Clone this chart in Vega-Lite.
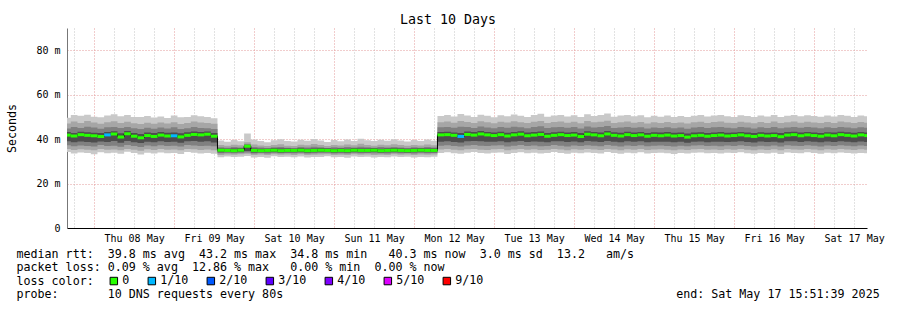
{
  "$schema": "https://vega.github.io/schema/vega-lite/v6.json",
  "width": 800,
  "height": 200,
  "autosize": {"type": "none"},
  "padding": {"left": 67, "top": 28, "right": 30, "bottom": 82},
  "background": "#ffffff",
  "config": {"view": {"stroke": null}, "font": "DejaVu Sans Mono"},
  "title": {"text": "Last 10 Days", "font": "DejaVu Sans Mono", "fontSize": 13.3, "fontWeight": "normal", "color": "#000000", "anchor": "middle", "frame": "group", "dx": -19, "dy": 13, "offset": 4, "baseline": "alphabetic"},
  "data": {"values": [
    {"t":"2025-05-07T14:00:00Z","med":41.6,"l1":33.9,"h1":50.2,"l2":35.3,"h2":47.4,"l3":37.0,"h3":45.1,"l4":38.8,"h4":43.0,"loss":"0"},
    {"t":"2025-05-07T16:00:00Z","med":41.8,"l1":34.2,"h1":49.6,"l2":35.6,"h2":47.0,"l3":37.2,"h3":44.8,"l4":39.0,"h4":43.2,"loss":"0"},
    {"t":"2025-05-07T18:00:00Z","med":41.4,"l1":33.5,"h1":50.8,"l2":35.1,"h2":47.9,"l3":36.8,"h3":45.4,"l4":38.6,"h4":42.8,"loss":"0"},
    {"t":"2025-05-07T20:00:00Z","med":42.0,"l1":34.0,"h1":50.5,"l2":35.4,"h2":47.2,"l3":37.1,"h3":45.0,"l4":38.9,"h4":43.3,"loss":"0"},
    {"t":"2025-05-07T22:00:00Z","med":41.7,"l1":33.7,"h1":51.0,"l2":35.2,"h2":48.1,"l3":36.9,"h3":45.6,"l4":38.7,"h4":43.1,"loss":"0"},
    {"t":"2025-05-08T00:00:00Z","med":41.5,"l1":33.2,"h1":50.1,"l2":35.0,"h2":47.5,"l3":36.7,"h3":45.2,"l4":38.5,"h4":42.9,"loss":"0"},
    {"t":"2025-05-08T02:00:00Z","med":41.2,"l1":34.1,"h1":49.8,"l2":35.5,"h2":46.9,"l3":37.3,"h3":44.7,"l4":38.9,"h4":42.7,"loss":"0"},
    {"t":"2025-05-08T04:00:00Z","med":41.9,"l1":33.6,"h1":50.6,"l2":35.2,"h2":47.6,"l3":36.9,"h3":45.3,"l4":38.7,"h4":43.2,"loss":"1/10"},
    {"t":"2025-05-08T06:00:00Z","med":42.3,"l1":33.9,"h1":51.2,"l2":35.3,"h2":48.0,"l3":37.0,"h3":45.5,"l4":39.1,"h4":43.5,"loss":"0"},
    {"t":"2025-05-08T08:00:00Z","med":41.0,"l1":33.4,"h1":50.3,"l2":35.0,"h2":47.3,"l3":36.6,"h3":45.0,"l4":38.4,"h4":42.6,"loss":"0"},
    {"t":"2025-05-08T10:00:00Z","med":42.4,"l1":34.3,"h1":50.9,"l2":35.6,"h2":47.8,"l3":37.4,"h3":45.4,"l4":39.2,"h4":43.6,"loss":"0"},
    {"t":"2025-05-08T12:00:00Z","med":41.3,"l1":33.8,"h1":50.0,"l2":35.2,"h2":47.1,"l3":36.9,"h3":44.9,"l4":38.6,"h4":42.8,"loss":"0"},
    {"t":"2025-05-08T14:00:00Z","med":40.6,"l1":33.1,"h1":49.9,"l2":34.8,"h2":46.8,"l3":36.5,"h3":44.6,"l4":38.2,"h4":42.3,"loss":"0"},
    {"t":"2025-05-08T16:00:00Z","med":41.6,"l1":33.9,"h1":50.4,"l2":35.4,"h2":47.4,"l3":37.1,"h3":45.1,"l4":38.8,"h4":43.0,"loss":"0"},
    {"t":"2025-05-08T18:00:00Z","med":41.2,"l1":33.5,"h1":49.7,"l2":35.1,"h2":46.9,"l3":36.8,"h3":44.7,"l4":38.6,"h4":42.7,"loss":"0"},
    {"t":"2025-05-08T20:00:00Z","med":41.8,"l1":34.0,"h1":50.2,"l2":35.5,"h2":47.5,"l3":37.2,"h3":45.2,"l4":39.0,"h4":43.2,"loss":"0"},
    {"t":"2025-05-08T22:00:00Z","med":41.4,"l1":33.6,"h1":49.5,"l2":35.2,"h2":47.0,"l3":36.9,"h3":44.8,"l4":38.7,"h4":42.9,"loss":"0"},
    {"t":"2025-05-09T00:00:00Z","med":41.5,"l1":33.8,"h1":50.6,"l2":35.3,"h2":47.6,"l3":37.0,"h3":45.3,"l4":38.8,"h4":43.0,"loss":"1/10"},
    {"t":"2025-05-09T02:00:00Z","med":41.0,"l1":33.3,"h1":49.8,"l2":35.0,"h2":46.8,"l3":36.7,"h3":44.6,"l4":38.4,"h4":42.6,"loss":"0"},
    {"t":"2025-05-09T04:00:00Z","med":41.7,"l1":34.2,"h1":50.0,"l2":35.6,"h2":47.2,"l3":37.3,"h3":44.9,"l4":39.0,"h4":43.1,"loss":"0"},
    {"t":"2025-05-09T06:00:00Z","med":42.1,"l1":33.9,"h1":50.7,"l2":35.4,"h2":47.9,"l3":37.1,"h3":45.5,"l4":39.1,"h4":43.4,"loss":"0"},
    {"t":"2025-05-09T08:00:00Z","med":41.9,"l1":33.5,"h1":50.3,"l2":35.1,"h2":47.5,"l3":36.9,"h3":45.0,"l4":38.8,"h4":43.2,"loss":"0"},
    {"t":"2025-05-09T10:00:00Z","med":42.2,"l1":33.7,"h1":49.9,"l2":35.3,"h2":47.3,"l3":37.0,"h3":44.9,"l4":39.0,"h4":43.4,"loss":"0"},
    {"t":"2025-05-09T12:00:00Z","med":41.3,"l1":33.4,"h1":49.4,"l2":35.0,"h2":46.9,"l3":36.8,"h3":44.6,"l4":38.5,"h4":42.8,"loss":"0"},
    {"t":"2025-05-09T14:00:00Z","med":35.0,"l1":31.8,"h1":39.4,"l2":32.9,"h2":37.4,"l3":33.6,"h3":36.3,"l4":34.1,"h4":35.8,"loss":"0"},
    {"t":"2025-05-09T16:00:00Z","med":34.9,"l1":32.2,"h1":38.8,"l2":33.1,"h2":37.0,"l3":33.8,"h3":36.1,"l4":34.2,"h4":35.7,"loss":"0"},
    {"t":"2025-05-09T18:00:00Z","med":34.8,"l1":31.9,"h1":39.6,"l2":33.0,"h2":37.5,"l3":33.6,"h3":36.4,"l4":34.1,"h4":35.8,"loss":"0"},
    {"t":"2025-05-09T20:00:00Z","med":35.0,"l1":32.1,"h1":39.0,"l2":33.2,"h2":37.2,"l3":33.7,"h3":36.2,"l4":34.2,"h4":35.9,"loss":"0"},
    {"t":"2025-05-09T22:00:00Z","med":36.8,"l1":32.4,"h1":42.5,"l2":33.4,"h2":38.6,"l3":34.0,"h3":37.8,"l4":34.6,"h4":37.3,"loss":"0"},
    {"t":"2025-05-10T00:00:00Z","med":34.9,"l1":31.7,"h1":39.8,"l2":32.9,"h2":37.6,"l3":33.5,"h3":36.4,"l4":34.0,"h4":35.8,"loss":"0"},
    {"t":"2025-05-10T02:00:00Z","med":34.8,"l1":32.0,"h1":39.2,"l2":33.1,"h2":37.1,"l3":33.7,"h3":36.2,"l4":34.1,"h4":35.7,"loss":"0"},
    {"t":"2025-05-10T04:00:00Z","med":34.9,"l1":31.6,"h1":38.6,"l2":32.8,"h2":36.9,"l3":33.5,"h3":36.0,"l4":34.1,"h4":35.7,"loss":"0"},
    {"t":"2025-05-10T06:00:00Z","med":35.0,"l1":32.3,"h1":39.5,"l2":33.2,"h2":37.4,"l3":33.8,"h3":36.3,"l4":34.2,"h4":35.9,"loss":"0"},
    {"t":"2025-05-10T08:00:00Z","med":34.8,"l1":31.9,"h1":39.9,"l2":33.0,"h2":37.7,"l3":33.6,"h3":36.5,"l4":34.0,"h4":35.8,"loss":"0"},
    {"t":"2025-05-10T10:00:00Z","med":34.9,"l1":32.1,"h1":39.1,"l2":33.1,"h2":37.0,"l3":33.7,"h3":36.1,"l4":34.1,"h4":35.8,"loss":"0"},
    {"t":"2025-05-10T12:00:00Z","med":34.9,"l1":31.8,"h1":38.9,"l2":32.9,"h2":36.9,"l3":33.6,"h3":36.0,"l4":34.1,"h4":35.7,"loss":"0"},
    {"t":"2025-05-10T14:00:00Z","med":35.0,"l1":32.2,"h1":39.7,"l2":33.2,"h2":37.5,"l3":33.8,"h3":36.4,"l4":34.2,"h4":35.9,"loss":"0"},
    {"t":"2025-05-10T16:00:00Z","med":34.8,"l1":31.7,"h1":39.3,"l2":32.9,"h2":37.2,"l3":33.5,"h3":36.2,"l4":34.0,"h4":35.7,"loss":"0"},
    {"t":"2025-05-10T18:00:00Z","med":34.9,"l1":32.0,"h1":40.0,"l2":33.0,"h2":37.8,"l3":33.6,"h3":36.6,"l4":34.1,"h4":35.8,"loss":"0"},
    {"t":"2025-05-10T20:00:00Z","med":35.0,"l1":31.9,"h1":39.4,"l2":33.1,"h2":37.3,"l3":33.7,"h3":36.3,"l4":34.2,"h4":35.9,"loss":"0"},
    {"t":"2025-05-10T22:00:00Z","med":34.9,"l1":32.3,"h1":38.7,"l2":33.2,"h2":36.9,"l3":33.8,"h3":36.0,"l4":34.2,"h4":35.8,"loss":"0"},
    {"t":"2025-05-11T00:00:00Z","med":34.8,"l1":31.8,"h1":39.6,"l2":32.9,"h2":37.4,"l3":33.5,"h3":36.3,"l4":34.0,"h4":35.7,"loss":"0"},
    {"t":"2025-05-11T02:00:00Z","med":34.9,"l1":32.0,"h1":39.0,"l2":33.0,"h2":37.1,"l3":33.6,"h3":36.1,"l4":34.1,"h4":35.8,"loss":"0"},
    {"t":"2025-05-11T04:00:00Z","med":34.8,"l1":31.6,"h1":39.8,"l2":32.8,"h2":37.6,"l3":33.5,"h3":36.4,"l4":34.0,"h4":35.7,"loss":"0"},
    {"t":"2025-05-11T06:00:00Z","med":35.0,"l1":32.2,"h1":39.2,"l2":33.2,"h2":37.2,"l3":33.8,"h3":36.2,"l4":34.2,"h4":35.9,"loss":"0"},
    {"t":"2025-05-11T08:00:00Z","med":34.9,"l1":31.9,"h1":40.2,"l2":33.0,"h2":37.9,"l3":33.6,"h3":36.6,"l4":34.1,"h4":35.8,"loss":"0"},
    {"t":"2025-05-11T10:00:00Z","med":34.9,"l1":32.1,"h1":39.5,"l2":33.1,"h2":37.4,"l3":33.7,"h3":36.3,"l4":34.1,"h4":35.8,"loss":"0"},
    {"t":"2025-05-11T12:00:00Z","med":35.0,"l1":31.7,"h1":39.1,"l2":32.9,"h2":37.0,"l3":33.6,"h3":36.1,"l4":34.2,"h4":35.9,"loss":"0"},
    {"t":"2025-05-11T14:00:00Z","med":34.8,"l1":32.0,"h1":39.7,"l2":33.0,"h2":37.5,"l3":33.6,"h3":36.4,"l4":34.0,"h4":35.7,"loss":"0"},
    {"t":"2025-05-11T16:00:00Z","med":34.9,"l1":31.8,"h1":39.3,"l2":32.9,"h2":37.2,"l3":33.5,"h3":36.2,"l4":34.1,"h4":35.8,"loss":"0"},
    {"t":"2025-05-11T18:00:00Z","med":35.0,"l1":32.2,"h1":39.9,"l2":33.2,"h2":37.7,"l3":33.8,"h3":36.5,"l4":34.2,"h4":35.9,"loss":"0"},
    {"t":"2025-05-11T20:00:00Z","med":34.9,"l1":31.9,"h1":39.4,"l2":33.0,"h2":37.3,"l3":33.6,"h3":36.2,"l4":34.1,"h4":35.8,"loss":"0"},
    {"t":"2025-05-11T22:00:00Z","med":34.8,"l1":32.1,"h1":38.9,"l2":33.1,"h2":37.0,"l3":33.7,"h3":36.0,"l4":34.0,"h4":35.7,"loss":"0"},
    {"t":"2025-05-12T00:00:00Z","med":34.9,"l1":31.7,"h1":39.6,"l2":32.9,"h2":37.4,"l3":33.5,"h3":36.3,"l4":34.1,"h4":35.8,"loss":"0"},
    {"t":"2025-05-12T02:00:00Z","med":35.0,"l1":32.0,"h1":39.2,"l2":33.1,"h2":37.1,"l3":33.7,"h3":36.1,"l4":34.2,"h4":35.9,"loss":"0"},
    {"t":"2025-05-12T04:00:00Z","med":34.9,"l1":31.8,"h1":39.8,"l2":33.0,"h2":37.6,"l3":33.6,"h3":36.4,"l4":34.1,"h4":35.8,"loss":"0"},
    {"t":"2025-05-12T06:00:00Z","med":34.9,"l1":32.1,"h1":39.3,"l2":33.1,"h2":37.2,"l3":33.7,"h3":36.2,"l4":34.1,"h4":35.8,"loss":"0"},
    {"t":"2025-05-12T08:00:00Z","med":41.9,"l1":33.8,"h1":50.4,"l2":35.3,"h2":47.6,"l3":37.0,"h3":45.3,"l4":38.8,"h4":43.2,"loss":"0"},
    {"t":"2025-05-12T10:00:00Z","med":42.0,"l1":34.1,"h1":50.9,"l2":35.5,"h2":47.9,"l3":37.2,"h3":45.5,"l4":39.0,"h4":43.3,"loss":"0"},
    {"t":"2025-05-12T12:00:00Z","med":41.7,"l1":33.6,"h1":50.2,"l2":35.2,"h2":47.4,"l3":36.9,"h3":45.1,"l4":38.7,"h4":43.0,"loss":"0"},
    {"t":"2025-05-12T14:00:00Z","med":41.2,"l1":33.4,"h1":51.3,"l2":35.0,"h2":48.1,"l3":36.7,"h3":45.6,"l4":38.5,"h4":42.8,"loss":"1/10"},
    {"t":"2025-05-12T16:00:00Z","med":42.1,"l1":33.9,"h1":50.6,"l2":35.4,"h2":47.7,"l3":37.1,"h3":45.4,"l4":39.0,"h4":43.4,"loss":"0"},
    {"t":"2025-05-12T18:00:00Z","med":41.8,"l1":34.2,"h1":50.0,"l2":35.6,"h2":47.3,"l3":37.3,"h3":45.0,"l4":39.1,"h4":43.2,"loss":"0"},
    {"t":"2025-05-12T20:00:00Z","med":42.3,"l1":33.7,"h1":51.0,"l2":35.2,"h2":48.0,"l3":37.0,"h3":45.7,"l4":39.0,"h4":43.6,"loss":"0"},
    {"t":"2025-05-12T22:00:00Z","med":41.9,"l1":33.5,"h1":50.5,"l2":35.1,"h2":47.6,"l3":36.9,"h3":45.2,"l4":38.8,"h4":43.2,"loss":"0"},
    {"t":"2025-05-13T00:00:00Z","med":41.6,"l1":33.9,"h1":49.8,"l2":35.4,"h2":47.1,"l3":37.1,"h3":44.9,"l4":38.8,"h4":43.0,"loss":"0"},
    {"t":"2025-05-13T02:00:00Z","med":42.0,"l1":34.0,"h1":50.7,"l2":35.5,"h2":47.8,"l3":37.2,"h3":45.4,"l4":39.0,"h4":43.3,"loss":"0"},
    {"t":"2025-05-13T04:00:00Z","med":41.4,"l1":33.3,"h1":50.3,"l2":35.0,"h2":47.5,"l3":36.7,"h3":45.1,"l4":38.6,"h4":42.9,"loss":"0"},
    {"t":"2025-05-13T06:00:00Z","med":41.9,"l1":33.8,"h1":51.1,"l2":35.3,"h2":48.0,"l3":37.0,"h3":45.6,"l4":38.9,"h4":43.2,"loss":"0"},
    {"t":"2025-05-13T08:00:00Z","med":42.2,"l1":34.1,"h1":50.5,"l2":35.6,"h2":47.6,"l3":37.3,"h3":45.3,"l4":39.1,"h4":43.5,"loss":"0"},
    {"t":"2025-05-13T10:00:00Z","med":41.5,"l1":33.6,"h1":50.0,"l2":35.2,"h2":47.2,"l3":36.9,"h3":44.9,"l4":38.7,"h4":43.0,"loss":"0"},
    {"t":"2025-05-13T12:00:00Z","med":41.8,"l1":33.9,"h1":50.8,"l2":35.4,"h2":47.8,"l3":37.1,"h3":45.5,"l4":38.9,"h4":43.2,"loss":"0"},
    {"t":"2025-05-13T14:00:00Z","med":42.1,"l1":33.5,"h1":51.4,"l2":35.1,"h2":48.2,"l3":36.8,"h3":45.8,"l4":38.8,"h4":43.4,"loss":"0"},
    {"t":"2025-05-13T16:00:00Z","med":41.3,"l1":33.7,"h1":50.1,"l2":35.2,"h2":47.3,"l3":36.9,"h3":45.0,"l4":38.6,"h4":42.8,"loss":"0"},
    {"t":"2025-05-13T18:00:00Z","med":41.7,"l1":34.2,"h1":50.6,"l2":35.6,"h2":47.7,"l3":37.3,"h3":45.3,"l4":39.0,"h4":43.1,"loss":"0"},
    {"t":"2025-05-13T20:00:00Z","med":42.0,"l1":33.8,"h1":50.9,"l2":35.3,"h2":47.9,"l3":37.0,"h3":45.5,"l4":39.0,"h4":43.3,"loss":"0"},
    {"t":"2025-05-13T22:00:00Z","med":41.6,"l1":33.4,"h1":50.2,"l2":35.0,"h2":47.4,"l3":36.7,"h3":45.1,"l4":38.7,"h4":43.0,"loss":"0"},
    {"t":"2025-05-14T00:00:00Z","med":41.8,"l1":33.9,"h1":50.7,"l2":35.4,"h2":47.8,"l3":37.1,"h3":45.4,"l4":38.9,"h4":43.2,"loss":"0"},
    {"t":"2025-05-14T02:00:00Z","med":41.2,"l1":33.6,"h1":49.9,"l2":35.2,"h2":47.1,"l3":36.9,"h3":44.8,"l4":38.6,"h4":42.7,"loss":"0"},
    {"t":"2025-05-14T04:00:00Z","med":42.2,"l1":34.0,"h1":51.2,"l2":35.5,"h2":48.1,"l3":37.2,"h3":45.7,"l4":39.1,"h4":43.5,"loss":"0"},
    {"t":"2025-05-14T06:00:00Z","med":41.9,"l1":33.7,"h1":50.4,"l2":35.3,"h2":47.6,"l3":37.0,"h3":45.2,"l4":38.9,"h4":43.2,"loss":"0"},
    {"t":"2025-05-14T08:00:00Z","med":41.5,"l1":33.5,"h1":50.8,"l2":35.1,"h2":47.8,"l3":36.8,"h3":45.4,"l4":38.7,"h4":43.0,"loss":"0"},
    {"t":"2025-05-14T10:00:00Z","med":42.3,"l1":34.2,"h1":51.5,"l2":35.6,"h2":48.3,"l3":37.3,"h3":45.9,"l4":39.1,"h4":43.6,"loss":"0"},
    {"t":"2025-05-14T12:00:00Z","med":41.7,"l1":33.8,"h1":50.1,"l2":35.3,"h2":47.3,"l3":37.0,"h3":45.0,"l4":38.8,"h4":43.1,"loss":"0"},
    {"t":"2025-05-14T14:00:00Z","med":41.4,"l1":33.4,"h1":50.6,"l2":35.0,"h2":47.6,"l3":36.7,"h3":45.2,"l4":38.6,"h4":42.9,"loss":"0"},
    {"t":"2025-05-14T16:00:00Z","med":42.0,"l1":33.9,"h1":50.9,"l2":35.4,"h2":47.9,"l3":37.1,"h3":45.5,"l4":39.0,"h4":43.3,"loss":"0"},
    {"t":"2025-05-14T18:00:00Z","med":41.6,"l1":33.6,"h1":50.3,"l2":35.2,"h2":47.4,"l3":36.9,"h3":45.1,"l4":38.8,"h4":43.0,"loss":"0"},
    {"t":"2025-05-14T20:00:00Z","med":41.9,"l1":34.1,"h1":50.7,"l2":35.5,"h2":47.7,"l3":37.2,"h3":45.3,"l4":39.0,"h4":43.2,"loss":"0"},
    {"t":"2025-05-14T22:00:00Z","med":41.3,"l1":33.5,"h1":49.8,"l2":35.1,"h2":47.0,"l3":36.8,"h3":44.8,"l4":38.6,"h4":42.8,"loss":"0"},
    {"t":"2025-05-15T00:00:00Z","med":41.7,"l1":33.7,"h1":50.5,"l2":35.3,"h2":47.6,"l3":37.0,"h3":45.2,"l4":38.8,"h4":43.1,"loss":"0"},
    {"t":"2025-05-15T02:00:00Z","med":41.5,"l1":33.9,"h1":50.1,"l2":35.4,"h2":47.3,"l3":37.1,"h3":45.0,"l4":38.8,"h4":43.0,"loss":"0"},
    {"t":"2025-05-15T04:00:00Z","med":41.8,"l1":33.6,"h1":50.6,"l2":35.2,"h2":47.7,"l3":36.9,"h3":45.3,"l4":38.8,"h4":43.2,"loss":"0"},
    {"t":"2025-05-15T06:00:00Z","med":41.4,"l1":33.3,"h1":50.0,"l2":35.0,"h2":47.2,"l3":36.7,"h3":44.9,"l4":38.6,"h4":42.9,"loss":"0"},
    {"t":"2025-05-15T08:00:00Z","med":41.6,"l1":33.8,"h1":50.4,"l2":35.3,"h2":47.5,"l3":37.0,"h3":45.2,"l4":38.8,"h4":43.0,"loss":"0"},
    {"t":"2025-05-15T10:00:00Z","med":40.9,"l1":33.5,"h1":49.9,"l2":35.1,"h2":47.0,"l3":36.8,"h3":44.7,"l4":38.4,"h4":42.5,"loss":"0"},
    {"t":"2025-05-15T12:00:00Z","med":41.5,"l1":33.9,"h1":50.5,"l2":35.4,"h2":47.6,"l3":37.1,"h3":45.2,"l4":38.8,"h4":43.0,"loss":"0"},
    {"t":"2025-05-15T14:00:00Z","med":41.7,"l1":34.0,"h1":50.8,"l2":35.5,"h2":47.8,"l3":37.2,"h3":45.4,"l4":38.9,"h4":43.1,"loss":"0"},
    {"t":"2025-05-15T16:00:00Z","med":41.3,"l1":33.6,"h1":50.2,"l2":35.2,"h2":47.3,"l3":36.9,"h3":45.0,"l4":38.6,"h4":42.8,"loss":"0"},
    {"t":"2025-05-15T18:00:00Z","med":41.6,"l1":33.8,"h1":50.6,"l2":35.3,"h2":47.7,"l3":37.0,"h3":45.3,"l4":38.8,"h4":43.0,"loss":"0"},
    {"t":"2025-05-15T20:00:00Z","med":41.8,"l1":33.5,"h1":50.9,"l2":35.1,"h2":47.9,"l3":36.8,"h3":45.5,"l4":38.8,"h4":43.2,"loss":"0"},
    {"t":"2025-05-15T22:00:00Z","med":41.4,"l1":33.9,"h1":50.3,"l2":35.4,"h2":47.4,"l3":37.1,"h3":45.1,"l4":38.7,"h4":42.9,"loss":"0"},
    {"t":"2025-05-16T00:00:00Z","med":41.6,"l1":33.7,"h1":50.0,"l2":35.2,"h2":47.2,"l3":36.9,"h3":44.9,"l4":38.8,"h4":43.0,"loss":"0"},
    {"t":"2025-05-16T02:00:00Z","med":41.9,"l1":34.1,"h1":50.7,"l2":35.5,"h2":47.8,"l3":37.2,"h3":45.4,"l4":39.0,"h4":43.2,"loss":"0"},
    {"t":"2025-05-16T04:00:00Z","med":41.5,"l1":33.6,"h1":50.4,"l2":35.2,"h2":47.5,"l3":36.9,"h3":45.2,"l4":38.7,"h4":43.0,"loss":"0"},
    {"t":"2025-05-16T06:00:00Z","med":41.2,"l1":33.4,"h1":49.9,"l2":35.0,"h2":47.1,"l3":36.7,"h3":44.8,"l4":38.5,"h4":42.7,"loss":"0"},
    {"t":"2025-05-16T08:00:00Z","med":41.7,"l1":33.8,"h1":50.6,"l2":35.3,"h2":47.7,"l3":37.0,"h3":45.3,"l4":38.9,"h4":43.1,"loss":"0"},
    {"t":"2025-05-16T10:00:00Z","med":41.4,"l1":33.5,"h1":50.2,"l2":35.1,"h2":47.3,"l3":36.8,"h3":45.0,"l4":38.7,"h4":42.9,"loss":"0"},
    {"t":"2025-05-16T12:00:00Z","med":41.6,"l1":33.9,"h1":50.8,"l2":35.4,"h2":47.9,"l3":37.1,"h3":45.4,"l4":38.8,"h4":43.0,"loss":"0"},
    {"t":"2025-05-16T14:00:00Z","med":41.1,"l1":33.3,"h1":50.0,"l2":35.0,"h2":47.2,"l3":36.7,"h3":44.9,"l4":38.5,"h4":42.7,"loss":"0"},
    {"t":"2025-05-16T16:00:00Z","med":41.8,"l1":34.0,"h1":50.5,"l2":35.5,"h2":47.6,"l3":37.2,"h3":45.2,"l4":39.0,"h4":43.2,"loss":"0"},
    {"t":"2025-05-16T18:00:00Z","med":42.0,"l1":33.7,"h1":50.9,"l2":35.3,"h2":47.9,"l3":37.0,"h3":45.5,"l4":39.0,"h4":43.3,"loss":"0"},
    {"t":"2025-05-16T20:00:00Z","med":41.5,"l1":33.6,"h1":50.3,"l2":35.2,"h2":47.4,"l3":36.9,"h3":45.1,"l4":38.7,"h4":43.0,"loss":"0"},
    {"t":"2025-05-16T22:00:00Z","med":41.9,"l1":34.1,"h1":50.7,"l2":35.5,"h2":47.8,"l3":37.2,"h3":45.4,"l4":39.0,"h4":43.2,"loss":"0"},
    {"t":"2025-05-17T00:00:00Z","med":41.6,"l1":33.8,"h1":50.4,"l2":35.3,"h2":47.5,"l3":37.0,"h3":45.2,"l4":38.8,"h4":43.0,"loss":"0"},
    {"t":"2025-05-17T02:00:00Z","med":41.3,"l1":33.4,"h1":50.1,"l2":35.0,"h2":47.2,"l3":36.7,"h3":44.9,"l4":38.6,"h4":42.8,"loss":"0"},
    {"t":"2025-05-17T04:00:00Z","med":41.8,"l1":33.9,"h1":50.6,"l2":35.4,"h2":47.7,"l3":37.1,"h3":45.3,"l4":38.9,"h4":43.1,"loss":"0"},
    {"t":"2025-05-17T06:00:00Z","med":41.5,"l1":33.6,"h1":50.2,"l2":35.2,"h2":47.3,"l3":36.9,"h3":45.0,"l4":38.7,"h4":43.0,"loss":"0"},
    {"t":"2025-05-17T08:00:00Z","med":42.0,"l1":34.0,"h1":50.8,"l2":35.5,"h2":47.9,"l3":37.2,"h3":45.5,"l4":39.0,"h4":43.3,"loss":"0"},
    {"t":"2025-05-17T10:00:00Z","med":41.7,"l1":33.7,"h1":50.5,"l2":35.3,"h2":47.6,"l3":37.0,"h3":45.2,"l4":38.8,"h4":43.1,"loss":"0"},
    {"t":"2025-05-17T12:00:00Z","med":41.4,"l1":33.5,"h1":50.0,"l2":35.1,"h2":47.2,"l3":36.8,"h3":44.9,"l4":38.6,"h4":42.9,"loss":"0"},
    {"t":"2025-05-17T14:00:00Z","med":41.9,"l1":33.8,"h1":50.6,"l2":35.4,"h2":47.7,"l3":37.1,"h3":45.3,"l4":38.9,"h4":43.2,"loss":"0"},
    {"t":"2025-05-17T16:00:00Z","med":41.6,"l1":33.6,"h1":50.3,"l2":35.2,"h2":47.4,"l3":36.9,"h3":45.1,"l4":38.7,"h4":43.0,"loss":"0"}
  ]},
  "encoding": {
    "x": {"field": "t", "type": "temporal",
      "scale": {"type": "utc", "domain": [{"year": 2025, "month": 5, "date": 7, "hours": 15, "minutes": 51, "seconds": 39, "utc": true}, {"year": 2025, "month": 5, "date": 17, "hours": 15, "minutes": 51, "seconds": 39, "utc": true}]},
      "axis": {"tickCount": 40,
        "grid": true, "gridColor": {"condition": {"test": "utchours(datum.value) == 0", "value": "#e29a9a"}, "value": "#c4c4c4"}, "gridDash": [1, 2],
        "labelExpr": "utchours(datum.value) == 12 ? utcFormat(datum.value, '\u0025a \u0025d \u0025b') : ''",
        "labelFont": "DejaVu Sans Mono", "labelFontSize": 10, "labelColor": "#000000", "labelPadding": 5, "labelFlush": false, "labelOverlap": false,
        "ticks": false, "domain": true, "domainColor": "#000000",
        "title": ["median rtt:\u00a0\u00a039.8\u00a0ms\u00a0avg\u00a0\u00a043.2\u00a0ms\u00a0max\u00a0\u00a034.8\u00a0ms\u00a0min\u00a0\u00a0\u00a040.3\u00a0ms\u00a0now\u00a0\u00a03.0\u00a0ms\u00a0sd\u00a0\u00a013.2\u00a0\u00a0\u00a0am/s",
                  "packet\u00a0loss:\u00a00.09\u00a0\u0025\u00a0avg\u00a0\u00a012.86\u00a0\u0025\u00a0max\u00a0\u00a0\u00a00.00\u00a0\u0025\u00a0min\u00a0\u00a00.00\u00a0\u0025\u00a0now",
                  "loss\u00a0color:",
                  "probe:\u00a0\u00a0\u00a0\u00a0\u00a0\u00a0\u00a010\u00a0DNS\u00a0requests\u00a0every\u00a080s\u00a0\u00a0\u00a0\u00a0\u00a0\u00a0\u00a0\u00a0\u00a0\u00a0\u00a0\u00a0\u00a0\u00a0\u00a0\u00a0\u00a0\u00a0\u00a0\u00a0\u00a0\u00a0\u00a0\u00a0\u00a0\u00a0\u00a0\u00a0\u00a0\u00a0\u00a0\u00a0\u00a0\u00a0\u00a0\u00a0\u00a0\u00a0\u00a0\u00a0\u00a0\u00a0\u00a0\u00a0\u00a0\u00a0\u00a0\u00a0\u00a0\u00a0\u00a0\u00a0\u00a0\u00a0\u00a0\u00a0end:\u00a0Sat\u00a0May\u00a017\u00a015:51:39\u00a02025"],
        "titleFont": "DejaVu Sans Mono", "titleFontSize": 11.66, "titleFontWeight": "normal", "titleColor": "#000000",
        "titleAngle": 0, "titleAlign": "left", "titleBaseline": "alphabetic", "titleLineHeight": 13.6, "titleX": -51, "titleY": 29}}
  },
  "layer": [
    {
      "mark": {"type": "area", "interpolate": "step", "color": "#c9c9c9", "clip": true},
      "encoding": {
        "y": {"field": "l1", "type": "quantitative", "scale": {"domain": [0, 90], "nice": false},
          "axis": {"values": [0, 5, 10, 15, 20, 25, 30, 35, 40, 45, 50, 55, 60, 65, 70, 75, 80, 85, 90],
            "grid": true, "gridColor": {"condition": {"test": "floor(datum.value / 10) * 10 == datum.value", "value": "#e29a9a"}, "value": "#c4c4c4"}, "gridDash": [1, 2],
            "labelExpr": "floor(datum.value / 10) * 10 != datum.value ? '' : (datum.value == 0 ? '0' : datum.value + ' m')",
            "labelFont": "DejaVu Sans Mono", "labelFontSize": 10, "labelColor": "#000000", "labelPadding": 7, "labelOverlap": false, "ticks": false,
            "domain": true, "domainColor": "#777777",
            "title": "Seconds", "titleFont": "DejaVu Sans Mono", "titleFontSize": 11.66, "titleFontWeight": "normal", "titleColor": "#000000",
            "titleAngle": -90, "titleAlign": "center", "titleBaseline": "alphabetic", "titleX": -51.5, "titleY": 100}},
        "y2": {"field": "h1"}
      }
    },
    {
      "mark": {"type": "area", "interpolate": "step", "color": "#a6a6a6", "clip": true},
      "encoding": {"y": {"field": "l2", "type": "quantitative"}, "y2": {"field": "h2"}}
    },
    {
      "mark": {"type": "area", "interpolate": "step", "color": "#808080", "clip": true},
      "encoding": {"y": {"field": "l3", "type": "quantitative"}, "y2": {"field": "h3"}}
    },
    {
      "mark": {"type": "area", "interpolate": "step", "color": "#4d4d4d", "clip": true},
      "encoding": {"y": {"field": "l4", "type": "quantitative"}, "y2": {"field": "h4"}}
    },
    {
      "mark": {"type": "line", "interpolate": "step", "color": "#000000", "strokeWidth": 1, "clip": true},
      "encoding": {"y": {"field": "med", "type": "quantitative"}}
    },
    {
      "mark": {"type": "tick", "orient": "horizontal", "thickness": 3, "size": 6.67, "opacity": 1, "clip": true},
      "encoding": {
        "y": {"field": "med", "type": "quantitative"},
        "color": {"field": "loss", "type": "nominal",
          "scale": {"domain": ["0", "1/10", "2/10", "3/10", "4/10", "5/10", "9/10"], "range": ["#26ff00", "#00b8ff", "#0059ff", "#5e00ff", "#7e00ff", "#dd00ff", "#ff0000"]},
          "legend": {"orient": "none", "legendX": 41, "legendY": 247, "direction": "horizontal", "title": null,
            "symbolType": "square", "symbolSize": 56, "symbolStrokeColor": "#000000", "symbolStrokeWidth": 1,
            "labelFont": "DejaVu Sans Mono", "labelFontSize": 11.66, "labelColor": "#000000", "labelOffset": 2.5, "columnPadding": 16}}
      }
    }
  ]
}
